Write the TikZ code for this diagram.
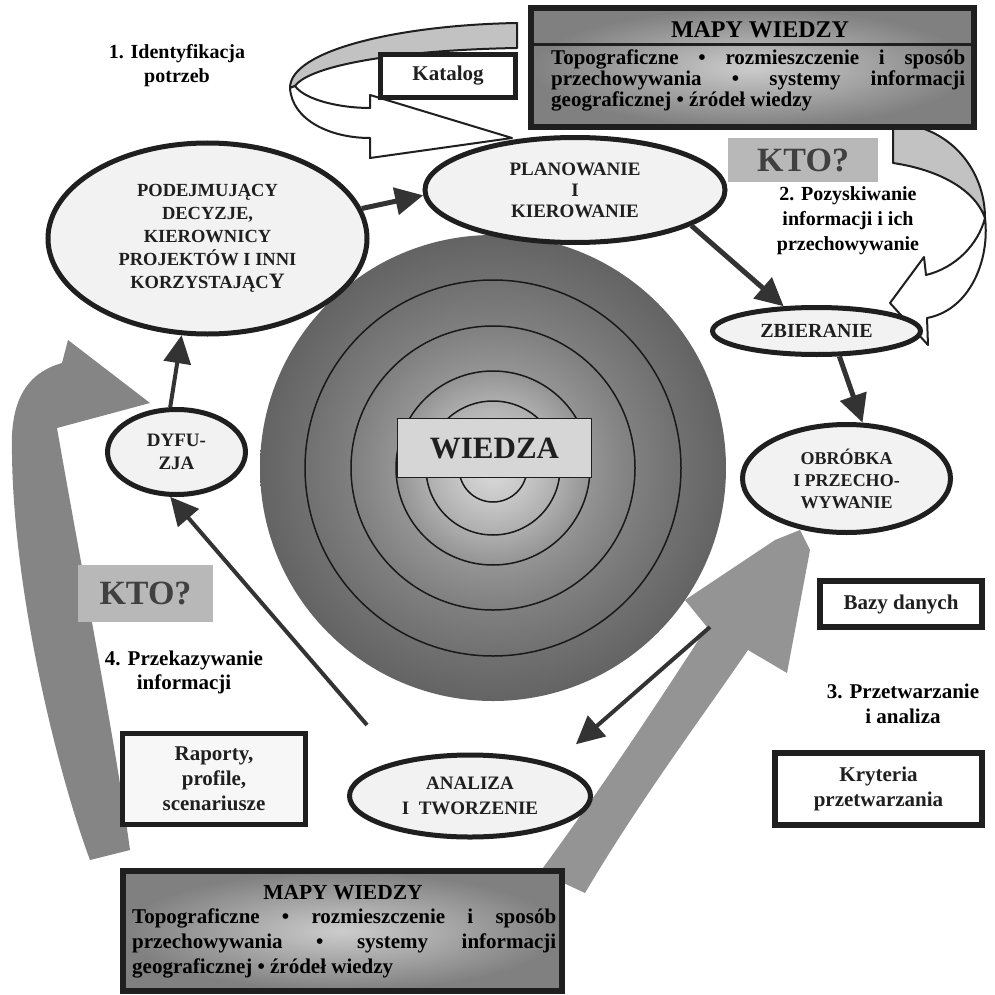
\documentclass[tikz,border=0pt]{standalone}
\usepackage{fontspec}
\setmainfont{Liberation Serif}
\usetikzlibrary{arrows.meta,shapes.geometric}
\newcommand{\fsz}[2]{\fontsize{#1}{#2}\selectfont}
\definecolor{inkc}{gray}{0.12}
\definecolor{txtc}{gray}{0.12}
\definecolor{ellfill}{gray}{0.95}
\definecolor{arrc}{gray}{0.2}
\definecolor{ktofill}{gray}{0.72}
\definecolor{ktotext}{gray}{0.25}
\definecolor{ribgray}{gray}{0.76}
\definecolor{bandleft}{gray}{0.52}
\definecolor{bandbot}{gray}{0.58}
\definecolor{mapin}{gray}{0.80}
\definecolor{mapout}{gray}{0.50}
\definecolor{ringc}{gray}{0.1}
\definecolor{wfill}{gray}{0.84}
\definecolor{boxfill}{gray}{0.97}
\definecolor{gA}{gray}{0.86}
\definecolor{gB}{gray}{0.78}
\definecolor{gC}{gray}{0.68}
\definecolor{gD}{gray}{0.58}
\definecolor{gE}{gray}{0.50}
\definecolor{gF}{gray}{0.44}
\definecolor{gG}{gray}{0.39}
\pgfdeclareradialshading{wiedzashade}{\pgfpoint{0bp}{0bp}}{color(0bp)=(gA); color(3.6bp)=(gB); color(7.2bp)=(gC); color(10.4bp)=(gD); color(15.2bp)=(gE); color(20.2bp)=(gF); color(25bp)=(gG); color(50bp)=(gG)}
\begin{document}
\begin{tikzpicture}[x=1pt,y=-1pt,
  ell/.style={ellipse, draw=inkc, line width=5pt, fill=ellfill, inner sep=0pt, align=center, text=txtc},
  arr/.style={draw=arrc, line width=5pt, -{Triangle[length=28pt,width=27pt]}},
  kto/.style={fill=ktofill, text=ktotext, inner sep=0pt, font=\bfseries\fsz{34}{34}},
  thickbox/.style={draw=inkc, line width=6pt, fill=white, inner sep=0pt, align=center, text=txtc},
  mapbox/.style={draw=inkc, line width=6pt, inner color=mapin, outer color=mapout, inner sep=0pt},
  lbl/.style={align=center, inner sep=0pt, text=black},
  ribline/.style={draw=inkc, line width=2pt, line join=round}]
\useasboundingbox (0,0) rectangle (994,995);
\fill[white] (0,0) rectangle (994,995);

% left grey band arrow
\fill[bandleft] (90,860) -- (130,850) .. controls (115,740) and (80,560) .. (57,428) -- (150,403) -- (68,340) -- (62,363) .. controls (20,375) and (10,410) .. (12,455) .. controls (14,600) and (60,780) .. (90,860) -- cycle;

% concentric circles
\shade[shading=wiedzashade] (493,468) circle[radius=233pt];
\foreach \r in {188,142,97,67,34} \draw[ringc, line width=1.5pt] (493,468) circle[radius=\r pt];

% bottom grey band arrow
\fill[bandbot] (540,872) .. controls (600,790) and (650,715) .. (707,627) -- (685,600) -- (775,540) -- (800,530) -- (810,550) -- (787,673) -- (748,650) .. controls (700,720) and (640,800) .. (585,893) -- cycle;

% top-left ribbon arrow
\draw[ribline, fill=ribgray] (517,23) -- (517,48) .. controls (400,50) and (310,65) .. (295,86) -- (290,88) .. controls (290,50) and (400,25) .. (517,23) -- cycle;
\draw[ribline, fill=white] (290,88) .. controls (292,120) and (330,138) .. (370,138) -- (370,158) -- (512,138) -- (370,95) -- (370,108) .. controls (340,108) and (305,100) .. (295,86) -- cycle;

% right ribbon arrow
\draw[ribline, fill=ribgray] (893,123) -- (893,163) .. controls (940,170) and (975,190) .. (985,218) .. controls (985,170) and (950,125) .. (893,123) -- cycle;
\draw[ribline, fill=white] (985,218) .. controls (990,260) and (970,310) .. (927,318) -- (928,345) -- (890,303) -- (924,257) -- (926,275) .. controls (955,268) and (978,245) .. (985,218) -- cycle;

% map boxes
\node[mapbox, minimum width=443pt, minimum height=119pt] (mapt) at (752.5,67.5) {};
\coordinate (dl) at (531,45);
\coordinate (dr) at (974,45);
\draw[inkc, line width=3pt] (dl) -- (dr);
\node[anchor=base, inner sep=0pt, font=\bfseries\fsz{24}{24}] (mapth) at (760,38) {MAPY WIEDZY};
\node[anchor=north west, inner sep=0pt, align=left, font=\bfseries\fsz{21}{21}] (maptb) at (551,49.5)
 {\hbox to 414pt{Topograficzne\hfil•\hfil rozmieszczenie\hfil i\hfil sposób}\\
  \hbox to 414pt{przechowywania\hfil•\hfil systemy\hfil informacji}\\
  geograficznej • źródeł wiedzy};

\node[mapbox, minimum width=439pt, minimum height=120pt] (mapb) at (342.5,931) {};
\node[anchor=base, inner sep=0pt, font=\bfseries\fsz{21.5}{21}] (mapbh) at (343,899) {MAPY WIEDZY};
\node[anchor=north west, inner sep=0pt, align=left, font=\bfseries\fsz{21}{25}] (mapbb) at (132,909)
 {\hbox to 424pt{Topograficzne\hfil•\hfil rozmieszczenie\hfil i\hfil sposób}\\
  \hbox to 424pt{przechowywania\hfil•\hfil systemy\hfil informacji}\\
  geograficznej • źródeł wiedzy};

% ellipses
\node[ell, minimum width=319pt, minimum height=191pt, font=\bfseries\fsz{18.5}{23}] (pod) at (207.5,238.5)
 {PODEJMUJĄCY\\DECYZJE,\\KIEROWNICY\\PROJEKTÓW I INNI\\KORZYSTAJĄC{\fsz{22}{23}Y}};
\node[ell, minimum width=300pt, minimum height=105pt, font=\bfseries\fsz{19}{21}] (plan) at (575,190) {PLANOWANIE\\I\\KIEROWANIE};
\node[ell, minimum width=208pt, minimum height=47pt, font=\bfseries\fsz{20}{22}] (zb) at (816.5,331) {ZBIERANIE};
\node[ell, minimum width=208pt, minimum height=108pt, font=\bfseries\fsz{18}{22}] (obr) at (846.5,478.5) {OBRÓBKA\\I PRZECHO-\\WYWANIE};
\node[ell, minimum width=138pt, minimum height=85pt, font=\bfseries\fsz{19}{23}] (dyf) at (176.5,452) {DYFU-\\ZJA};
\node[ell, minimum width=241pt, minimum height=82pt, font=\bfseries\fsz{19}{25}] (ana) at (470,796) {ANALIZA\\I\ \ TWORZENIE};

% boxes
\node[thickbox, line width=5pt, minimum width=135pt, minimum height=43pt, font=\bfseries\fsz{21}{21}] (kat) at (448,76) {Katalog};
\node[thickbox, minimum width=162pt, minimum height=46pt, font=\bfseries\fsz{21}{21}] (bazy) at (901,604) {Bazy danych};
\node[thickbox, minimum width=207pt, minimum height=72pt, font=\bfseries\fsz{21}{25}] (kryt) at (878.5,789) {Kryteria\\przetwarzania};
\node[thickbox, line width=5pt, fill=boxfill, minimum width=183pt, minimum height=91pt, font=\bfseries\fsz{21}{25}] (rap) at (214,779) {Raporty,\\profile,\\scenariusze};
\node[draw=inkc, line width=1.5pt, fill=wfill, minimum width=194pt, minimum height=59pt, inner sep=0pt, text=txtc, font=\bfseries\fsz{31}{31}] (wiedza) at (494.5,448) {WIEDZA};
\node[kto, minimum width=150pt, minimum height=44pt] (kto1) at (803,160) {KTO?};
\node[kto, minimum width=135pt, minimum height=57pt] (kto2) at (145.5,593.5) {KTO?};

% labels
\node[lbl, font=\bfseries\fsz{20}{24}] (t1) at (177,66) {1. Identyfikacja\\potrzeb};
\node[lbl, font=\bfseries\fsz{20}{25}] (t2) at (848,221) {2. Pozyskiwanie\\informacji i ich\\przechowywanie};
\node[lbl, font=\bfseries\fsz{21}{25}] (t3) at (903,704) {3. Przetwarzanie\\i analiza};
\node[lbl, font=\bfseries\fsz{21}{24}] (t4) at (184,672) {4. Przekazywanie\\informacji};

% connectors
\coordinate (c1) at (710,627);
\coordinate (c2) at (367,725);
\draw[arr] (pod.11) -- (plan.182);
\draw[arr] (plan.-17) -- (zb.143);
\draw[arr] (zb.-48) -- (obr.74);
\draw[arr, line width=4pt] (dyf.98) -- (pod.255);
\draw[arr, line width=4pt] (c2) -- (dyf.262);
\draw[arr, line width=4pt, shorten >=30pt] (c1) -- (ana.21);
\end{tikzpicture}
\end{document}
